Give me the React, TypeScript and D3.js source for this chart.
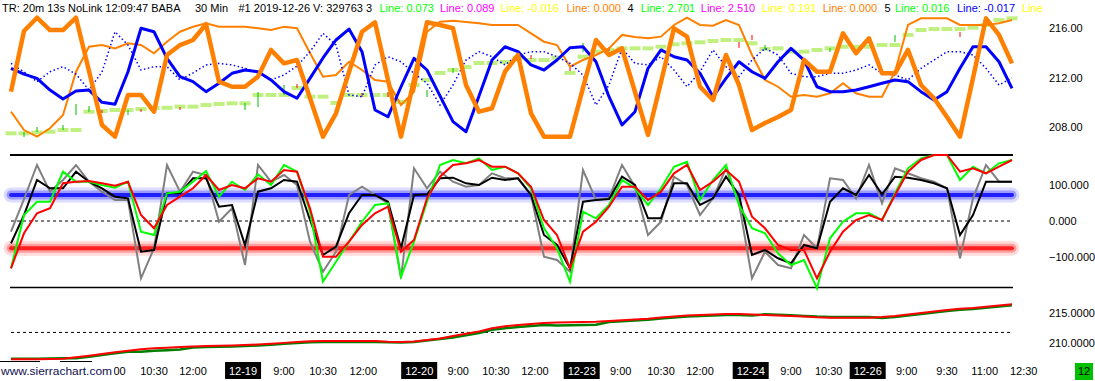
import React from "react";
import * as d3 from "d3";

const W = 1095;
const H = 381;

// ---------- top panel (price scale 208..216) ----------
const thickOrange = [210.85,215.78,216.86,215.86,215.86,216.86,212.53,208.14,207.19,210.58,
  210.58,209.22,213.83,214.64,215.05,216.33,211.66,211.25,211.25,212.07,
  214.24,213.15,213.42,210.33,207.19,209.09,212.45,215.72,216.49,211.80,
  207.19,211.80,216.49,216.27,216.00,211.39,209.22,209.50,212.47,213.83,
  209.09,207.19,207.19,207.19,211.15,215.05,213.83,214.37,210.82,207.33,
  211.63,216.00,215.32,211.25,210.17,213.83,211.39,207.73,208.30,208.79,
  209.36,213.42,212.47,212.47,215.59,213.97,215.19,212.34,212.34,214.24,
  211.39,210.31,208.79,207.19,211.96,216.81,215.46,213.15];

const thinOrange = [209.22,207.73,207.19,207.87,208.95,212.47,214.50,214.64,214.37,214.78,
  214.64,213.97,214.91,215.72,216.13,216.41,216.13,216.13,216.13,216.00,
  215.86,216.13,216.00,213.99,212.07,212.20,213.28,212.61,211.80,211.66,
  209.76,210.85,215.72,216.54,216.62,216.51,216.41,216.27,216.27,216.27,
  215.59,214.91,214.64,212.88,213.42,213.83,214.37,215.46,215.29,215.19,
  215.32,216.27,216.86,216.27,216.21,216.67,216.27,213.83,211.80,211.25,
  210.44,210.58,210.44,210.72,211.53,210.72,210.44,210.44,212.47,216.27,
  216.81,216.81,216.81,216.27,216.27,216.27,216.41,216.67];

const thickBlue = [212.75,212.28,211.93,210.98,210.25,210.90,210.98,209.98,209.82,212.47,
  216.00,215.72,213.56,212.07,211.66,210.85,211.53,212.34,212.61,212.47,
  211.80,210.85,210.31,211.93,213.59,215.05,215.94,214.10,209.36,208.81,
  211.25,213.56,212.61,210.50,208.41,207.59,210.50,213.42,214.50,214.10,
  213.02,212.61,213.42,214.42,214.50,213.28,210.44,208.14,209.22,212.75,
  214.24,213.69,213.42,212.34,210.44,211.93,213.28,212.47,211.93,213.28,
  214.37,213.42,211.25,210.85,210.85,210.98,211.25,211.53,211.80,211.66,
  210.85,210.17,210.85,212.75,214.50,214.50,213.28,211.12];

const dottedBlue = [213.15,212.45,211.66,212.47,212.88,212.28,210.98,212.45,215.72,214.64,
  212.61,212.88,212.88,211.80,212.37,213.02,213.15,213.02,212.75,212.37,
  211.80,212.20,212.93,214.10,215.59,214.64,210.58,210.44,213.02,213.69,
  213.28,212.34,211.53,209.76,211.39,213.42,214.10,213.69,213.02,213.83,
  214.10,214.10,213.69,213.15,212.20,209.76,211.39,214.37,213.15,213.02,
  213.69,212.61,211.25,212.47,214.24,212.88,212.07,213.42,214.37,213.83,
  212.34,212.07,212.07,212.34,212.34,212.61,213.02,212.34,212.20,211.80,
  212.75,213.42,214.10,214.10,213.83,212.75,211.39,211.96];

const lightGreen = [207.46,207.46,207.53,207.59,207.73,207.73,209.22,209.28,209.36,209.36,
  209.44,209.52,209.54,209.63,209.63,209.76,209.85,209.90,209.90,210.58,
  210.58,210.58,211.15,210.44,210.44,209.93,210.58,210.58,210.58,210.58,
  210.01,211.39,211.80,212.37,212.61,212.85,213.18,213.18,213.26,213.59,
  213.42,213.42,213.61,212.37,213.69,214.10,214.24,214.37,214.37,214.37,
  214.50,214.70,214.78,214.86,214.97,215.05,215.05,214.78,214.32,214.37,
  214.10,214.10,214.24,214.37,214.50,214.50,214.50,214.64,214.64,215.46,
  215.86,215.94,215.94,215.94,216.05,216.27,216.67,216.81];

// small up/down ticks in the top panel
const tickBar = [1,2,4,5,6,7,9,10,13,18,19,21,22,27,29,32,34,40,43,44,46,56,57,58,63,68,73];
const tickHigh = [207.57,207.98,208.14,209.85,209.68,209.36,209.36,209.44,209.60,209.93,210.82,211.39,211.47,210.74,210.82,210.98,212.77,213.83,212.85,214.80,214.48,214.89,215.46,214.64,214.40,215.46,215.70];
const tickLow = [207.16,207.57,207.73,208.95,209.20,209.11,208.95,209.20,209.36,209.36,209.60,210.58,211.15,210.41,210.41,210.41,212.37,213.50,212.53,214.07,214.15,214.40,215.05,214.24,214.07,214.89,215.29];
const tickUp = [1,1,1,1,1,0,1,0,0,1,1,1,0,0,0,1,1,0,0,1,0,0,0,1,1,1,0];

// ---------- middle panel (oscillators) ----------
const grayOsc = [-30,61.6,156.9,82.1,114.8,156.9,110.1,82.1,58.8,58.8,
  -160.5,-76.5,156.9,82.1,138.1,128.8,-2,35.6,-123.2,156.9,
  110.1,128.8,100.8,-58,-142,-86,72.8,96.1,72.8,49.6,
  -160.5,147.6,91.6,138.1,110.1,96.1,100.8,133.6,119.6,119.6,
  72.8,-100,-109.2,-142,142.9,58.8,63.6,156.9,96.1,-39.2,
  -2,124.1,100.8,16.8,63.6,147.6,49.6,-160.5,-86,-123.2,
  -132.5,-39.2,-76.5,119.6,114.8,63.6,156.9,49.6,147.6,133.6,
  119.6,110.1,91.6,-104.5,63.6,156.9,110.1,110.1];

const blackOsc = [-62.5,16.8,114.8,91.6,91.6,138.1,110.1,91.6,68.1,63.6,
  -86,-81.2,77.6,77.6,119.6,119.6,40.1,44.8,-67.2,82.1,
  91.6,114.8,110.1,2.8,-95.2,-72,21.6,72.8,72.8,54.1,
  -76.5,72.8,74.8,119.6,121.3,105.6,100.8,121.3,114.8,119.6,
  72.8,-39.2,-67.2,-132.5,54.1,58.8,61.6,124.1,100.8,7.6,
  7.6,105.6,105.6,44.8,63.6,124.1,72.8,-95.2,-81.2,-104.5,
  -118.5,-67.2,-76.5,54.1,91.6,72.8,128.8,74.8,124.1,121.3,
  114.8,105.6,91.6,-39.2,16.8,110.1,110.1,110.1];

const greenOsc = [-132.5,16.8,54.1,54.1,138.1,110.1,110.1,100.8,93.3,110.1,
  -30,-39.2,77.6,82.1,110.1,140.1,68.1,110.1,86.8,130.8,
  100.8,156.9,138.1,26,-170,-114,-58,-2,44.8,49.6,
  -156,-58,54.1,156.9,170.9,161.6,175.6,142.9,152.1,133.6,
  91.6,-20.4,-76.5,-170,26,7.6,44.8,114.8,91.6,44.8,
  91.6,152.1,166.1,58.8,114.8,156.9,44.8,-20.4,-34.5,-90.5,
  -123.2,-109.2,-188.5,-48.5,-2,21.6,21.6,2.8,77.6,147.6,
  175.6,184.9,184.9,114.8,152.1,133.6,161.6,170.9];

const redOsc = [-132.5,-34.5,21.6,35.6,105.6,110.1,112,105.6,98.9,110.1,
  16.8,-20.4,44.8,68.1,91.6,128.8,86.8,100.8,91.6,119.6,
  110.1,142.9,138.1,35.6,-100,-100,-58,-11.2,21.6,40.1,
  -86,-53.2,63.6,124.1,156.9,161.6,170.9,152.1,152.1,133.6,
  96.1,2.8,-39.2,-132.5,-30,-2,40.1,96.1,96.1,58.8,
  82.1,133.6,156.9,86.8,110.1,142.9,110.1,12,-20.4,-67.2,
  -81.2,-81.2,-160.5,-86,-30,2.8,16.8,2.8,72.8,138.1,
  170.9,184.9,184.9,138.1,147.6,133.6,152.1,170.9];

const oscUpperLine = 185;
const oscLowerLine = -186;
const oscBandHigh = 73;
const oscBandLow = -76;
const oscZero = 0;

// ---------- bottom panel ----------
const bottomRed = [207.18,207.18,207.18,207.23,207.28,207.52,207.79,208.08,208.37,208.64,
  208.88,209.06,209.15,209.27,209.37,209.44,209.47,209.54,209.61,209.69,
  209.81,209.97,210.12,210.26,210.29,210.29,210.29,210.29,210.29,210.15,
  210.12,210.20,210.46,210.71,211.14,211.51,211.90,212.45,212.81,213.01,
  213.18,213.35,213.44,213.47,213.52,213.55,213.69,213.81,213.93,214.06,
  214.29,214.46,214.61,214.71,214.80,214.88,214.88,214.80,214.71,214.63,
  214.54,214.44,214.32,214.25,214.25,214.25,214.25,214.37,214.54,214.80,
  215.05,215.31,215.56,215.77,215.90,216.11,216.34,216.53];

const bottomGreen = [207.26,207.26,207.26,207.31,207.36,207.35,207.62,207.91,208.20,208.47,
  208.45,208.63,208.72,208.84,209.20,209.27,209.30,209.37,209.44,209.52,
  209.64,209.80,209.95,210.09,210.12,210.12,210.12,210.12,210.12,210.06,
  210.03,210.11,210.37,210.62,210.88,211.25,211.64,212.19,212.47,212.67,
  212.84,213.01,212.93,212.96,213.01,213.04,213.52,213.64,213.76,213.89,
  214.12,214.29,214.44,214.54,214.63,214.71,214.71,214.63,214.83,214.75,
  214.66,214.56,214.44,214.37,214.37,214.37,214.37,214.20,214.37,214.63,
  214.88,215.14,215.39,215.60,215.73,215.94,216.17,216.36];

const bottomRef = 211.75;

// ---------- axes ----------
const topTicks = [216, 212, 208];
const midTicks = [100, 0, -100];
const botTicks = [215, 210];

const timeLabelText = ["9:00","10:30","12:00","9:00","10:30","12:00","9:00","10:30","12:00","9:00","10:30","12:00","9:00","10:30","9:00","9:30","11:00","12:30"];
const timeLabelBar = [8,11,14,21,24,27.1,34.4,37.3,40.3,46.9,50,53,60,62.9,68.9,72,74.9,77.9];
const dateLabelText = ["12-19","12-20","12-23","12-24","12-26"];
const dateLabelBar = [17.85,31.4,43.9,56.9,65.9];

const headerText = ["TR: 20m 13s NoLink 12:09:47 BABA","30 Min","#1 2019-12-26 V: 329763 3",
  "Line: 0.073","Line: 0.089","Line: -0.016","Line: 0.000","4",
  "Line: 2.701","Line: 2.510","Line: 0.191","Line: 0.000","5",
  "Line: 0.016","Line: -0.017","Line"];

export default function App() {
  const N = thickOrange.length;
  const x = d3.scaleLinear().domain([0, N - 1]).range([11, 1012]);
  const yTop = d3.scaleLinear().domain([208, 216]).range([126.7, 28.3]);
  const yMid = d3.scaleLinear().domain([-100, 100]).range([256.7, 185.3]);
  const yBot = d3.scaleLinear().domain([210, 215]).range([342.7, 313.3]);

  const mk = (y: d3.ScaleLinear<number, number>) =>
    d3.line<number>().x((_, i) => x(i)).y((v) => y(v));
  const lTop = mk(yTop);
  const lMid = mk(yMid);
  const lBot = mk(yBot);

  const headerColor = ["#000","#000","#000","#00ff00","#ff00ff","#ffff00","#ff8000","#000",
    "#00ff00","#ff00ff","#ffff00","#ff8000","#000","#00ff00","#0000ff","#ffff00"];
  const headerX = [2,195,238.5,379.5,440,500.7,566.5,627.6,640.7,700.8,762,822.7,884.5,895,957,1022];

  const x0 = x(0), x1 = x(N - 1);
  const font = "'Liberation Sans', Arial, sans-serif";

  return (
    <svg width={W} height={H} style={{ position: "absolute", left: 0, top: 0, background: "#fff" }} fontFamily={font}>
      <rect x={0} y={0} width={W} height={H} fill="#fff" />

      {/* top panel */}
      {lightGreen.map((v, i) => (
        <line key={"lg" + i} x1={x(i) - 5.5} x2={x(i) + 5.5} y1={yTop(v)} y2={yTop(v)} stroke="#c0f080" strokeWidth={4} />
      ))}
      {tickBar.map((b, k) => (
        <line key={"tk" + k} x1={x(b)} x2={x(b)} y1={yTop(tickHigh[k])} y2={yTop(tickLow[k])} stroke={tickUp[k] ? "#00c000" : "#ff0000"} strokeWidth={1} />
      ))}
      <path d={lTop(thinOrange) || ""} fill="none" stroke="#ff8000" strokeWidth={2} />
      <path d={lTop(dottedBlue) || ""} fill="none" stroke="#0000ff" strokeWidth={1.5} strokeDasharray="1.5,2.5" />
      <path d={lTop(thickBlue) || ""} fill="none" stroke="#0000ff" strokeWidth={3} strokeLinejoin="round" />
      <path d={lTop(thickOrange) || ""} fill="none" stroke="#ff8000" strokeWidth={4.5} strokeLinejoin="round" />

      {/* middle panel */}
      <line x1={x0} x2={x1} y1={yMid(oscBandHigh)} y2={yMid(oscBandHigh)} stroke="#dcdcff" strokeWidth={15} strokeLinecap="round" />
      <line x1={x0} x2={x1} y1={yMid(oscBandHigh)} y2={yMid(oscBandHigh)} stroke="#9c9cff" strokeWidth={9} strokeLinecap="round" />
      <line x1={x0} x2={x1} y1={yMid(oscBandHigh)} y2={yMid(oscBandHigh)} stroke="#2020ff" strokeWidth={4} strokeLinecap="round" />
      <line x1={x0} x2={x1} y1={yMid(oscBandLow)} y2={yMid(oscBandLow)} stroke="#ffdcdc" strokeWidth={15} strokeLinecap="round" />
      <line x1={x0} x2={x1} y1={yMid(oscBandLow)} y2={yMid(oscBandLow)} stroke="#ff9c9c" strokeWidth={9} strokeLinecap="round" />
      <line x1={x0} x2={x1} y1={yMid(oscBandLow)} y2={yMid(oscBandLow)} stroke="#ff2020" strokeWidth={4} strokeLinecap="round" />
      <line x1={x0 - 1} x2={x1 + 1} y1={yMid(oscUpperLine)} y2={yMid(oscUpperLine)} stroke="#000" strokeWidth={2} />
      <line x1={x0 - 1} x2={x1 + 1} y1={yMid(oscLowerLine)} y2={yMid(oscLowerLine)} stroke="#000" strokeWidth={1.5} />
      <line x1={x0} x2={x1} y1={yMid(oscZero)} y2={yMid(oscZero)} stroke="#000" strokeWidth={1} strokeDasharray="3,3" />
      <path d={lMid(grayOsc) || ""} fill="none" stroke="#808080" strokeWidth={2} />
      <path d={lMid(blackOsc) || ""} fill="none" stroke="#000" strokeWidth={2} />
      <path d={lMid(greenOsc) || ""} fill="none" stroke="#00ff00" strokeWidth={2} />
      <path d={lMid(redOsc) || ""} fill="none" stroke="#ff0000" strokeWidth={2} />

      {/* bottom panel */}
      <line x1={x0} x2={x1} y1={yBot(bottomRef)} y2={yBot(bottomRef)} stroke="#000" strokeWidth={1} strokeDasharray="3,3" />
      <path d={lBot(bottomGreen) || ""} fill="none" stroke="#008000" strokeWidth={2.5} />
      <path d={lBot(bottomRed) || ""} fill="none" stroke="#ff0000" strokeWidth={2} />

      {/* value scale */}
      <g fontSize={11} fill="#000">
        {topTicks.map((t) => (
          <text key={"yt" + t} x={1049} y={yTop(t)} dominantBaseline="central">{d3.format(".2f")(t)}</text>
        ))}
        {midTicks.map((t) => (
          <text key={"ym" + t} x={1049} y={yMid(t)} dominantBaseline="central">{d3.format(".3f")(t)}</text>
        ))}
        {botTicks.map((t) => (
          <text key={"yb" + t} x={1049} y={yBot(t)} dominantBaseline="central">{d3.format(".4f")(t)}</text>
        ))}
      </g>

      {/* time scale */}
      <g fontSize={11}>
        {timeLabelText.map((t, k) => (
          <text key={"tl" + k} x={x(timeLabelBar[k])} y={375} textAnchor="middle" fill="#000">{t}</text>
        ))}
        {dateLabelText.map((t, k) => (
          <g key={"dl" + k}>
            <rect x={x(dateLabelBar[k]) - 18} y={362} width={36} height={17} fill="#000" />
            <text x={x(dateLabelBar[k])} y={375} textAnchor="middle" fill="#fff">{t}</text>
          </g>
        ))}
        <rect x={0} y={362} width={114} height={19} fill="#fff" />
        <text x={1} y={375} fill="#101050" textLength={111} lengthAdjust="spacingAndGlyphs">www.sierrachart.com</text>
        <line x1={0} x2={40} y1={361.5} y2={361.5} stroke="#000" strokeWidth={1} />
        <line x1={60} x2={92} y1={361.5} y2={361.5} stroke="#000" strokeWidth={1} />
        <rect x={1075} y={363} width={18} height={17} fill="#00c000" />
        <text x={1084} y={375} textAnchor="middle" fill="#000">12</text>
      </g>

      {/* header */}
      <g fontSize={11}>
        {headerText.map((t, k) => (
          <text key={"h" + k} x={headerX[k]} y={12} fill={headerColor[k]}>{t}</text>
        ))}
      </g>
    </svg>
  );
}
